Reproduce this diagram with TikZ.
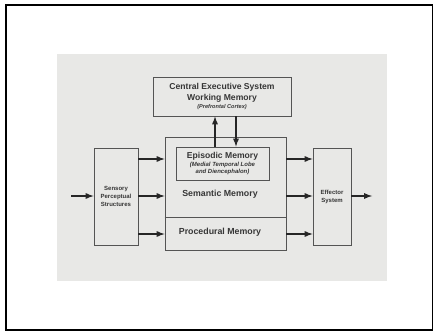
\documentclass[tikz,border=0pt]{standalone}
\usepackage{fontspec}
\setmainfont{Liberation Sans}
\usepackage{tikz}
\tikzset{>=latex}
\definecolor{paper}{HTML}{E8E8E6}
\definecolor{ink}{HTML}{363636}
\tikzset{
  box/.style={draw=ink!85, line width=0.8pt, fill=paper, inner sep=0pt,
    text=ink, align=center},
  lbl/.style={text=ink, inner sep=0pt, align=center},
  arr/.style={->, line width=1.7pt, black!85},
}

\begin{document}
\begin{tikzpicture}[x=1pt,y=-1pt]
        \useasboundingbox (0,0) rectangle (433,331);
        \draw[line width=2pt] (5.5,5.5) rectangle (432.5,329.5);
        \fill[paper] (57,54) rectangle (387,281);

        \coordinate (in) at (71,196);
        \coordinate (out) at (372,196);
        \coordinate (r1) at (0,159);
        \coordinate (r2) at (0,196);
        \coordinate (r3) at (0,234);
        \coordinate (up) at (215,0);
        \coordinate (dn) at (236,0);
        \coordinate (cut) at (0,217);

        \node[box, minimum width=138pt, minimum height=39pt,
          font=\bfseries\fontsize{8.6}{10.5}\selectfont] (ces) at (222,96.5)
          {Central Executive System\\ Working Memory\\[-2pt]
           {\fontsize{5.6}{7}\selectfont\itshape (Prefrontal Cortex)}};
        \node[box, minimum width=121pt, minimum height=113pt] (mem) at (225.5,193.5) {};
        \node[box, minimum width=93pt, minimum height=33pt,
          font=\bfseries\fontsize{6}{7.2}\selectfont] (epi) at (222.5,163.5)
          {{\fontsize{8.6}{9}\selectfont Episodic Memory}\\[0.5pt]
           \itshape (Medial Temporal Lobe\\ \itshape and Diencephalon)};
        \node[box, minimum width=44pt, minimum height=97pt,
          font=\bfseries\fontsize{6}{8}\selectfont] (sens) at (116,196.5)
          {Sensory\\Perceptual\\Structures};
        \node[box, minimum width=38pt, minimum height=97pt,
          font=\bfseries\fontsize{6}{8}\selectfont] (eff) at (332,196.5)
          {Effector\\System};
        \node[lbl, font=\bfseries\fontsize{8.8}{10}\selectfont] (sem) at (220,194) {Semantic Memory};
        \node[lbl, font=\bfseries\fontsize{8.8}{10}\selectfont] (proc) at (220,232) {Procedural Memory};

        \draw[ink!85, line width=0.8pt] (mem.west |- cut) -- (mem.east |- cut);

        \draw[arr] (in) -- (sens.west |- in);
        \draw[arr] (eff.east |- out) -- (out);
        \foreach \r in {r1,r2,r3} {
            \draw[arr] (sens.east |- \r) -- (mem.west |- \r);
            \draw[arr] (mem.east |- \r) -- (eff.west |- \r);
        }
        \draw[arr] (epi.north -| up) -- (ces.south -| up);
        \draw[arr] (ces.south -| dn) -- (epi.north -| dn);
    \end{tikzpicture}
\end{document}
